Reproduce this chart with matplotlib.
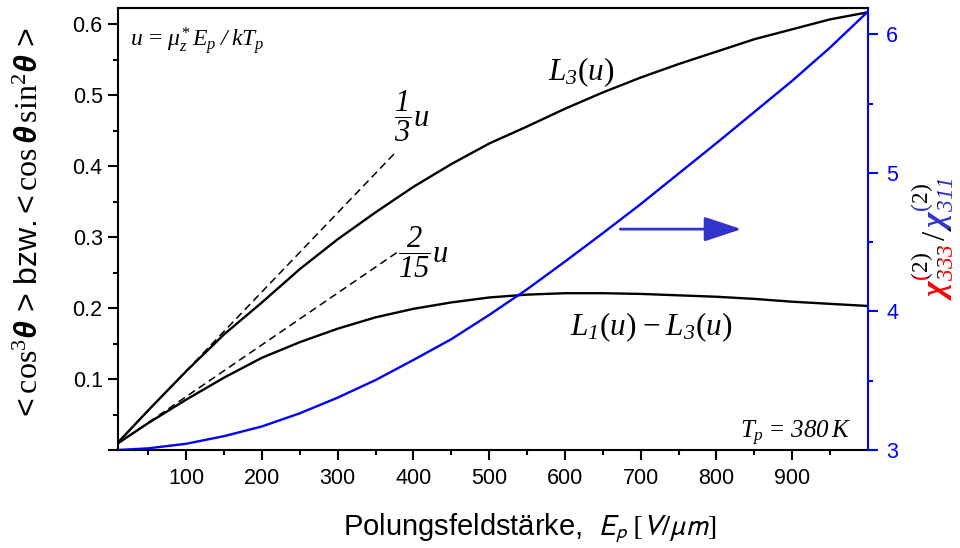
import numpy as np
import matplotlib
matplotlib.use("Agg")
import matplotlib.pyplot as plt
from matplotlib.ticker import FixedLocator, FixedFormatter
from matplotlib.transforms import Bbox, IdentityTransform

# ---------------- data ----------------
E_field = [10, 50, 100, 150, 200, 250, 300, 350, 400, 450, 500,
           550, 600, 650, 700, 750, 800, 850, 900, 950, 1000]
L3_vals = [0.0105, 0.056, 0.111, 0.163, 0.208, 0.255, 0.297, 0.335, 0.371, 0.403, 0.432,
           0.456, 0.481, 0.504, 0.525, 0.544, 0.5615, 0.579, 0.593, 0.607, 0.617]
L1mL3_vals = [0.0095, 0.038, 0.071, 0.102, 0.130, 0.152, 0.171, 0.187, 0.199, 0.208, 0.215,
              0.219, 0.221, 0.221, 0.220, 0.218, 0.216, 0.213, 0.209, 0.206, 0.203]
chi_ratio = [3.000, 3.012, 3.045, 3.100, 3.170, 3.265, 3.378, 3.505, 3.650, 3.800, 3.975,
             4.160, 4.360, 4.565, 4.775, 4.995, 5.215, 5.440, 5.665, 5.905, 6.165]
tan1_E = [10, 375]
tan1_v = [0.0112, 0.418]
tan2_E = [10, 379]
tan2_v = [0.0095, 0.279]

x_major = [100, 200, 300, 400, 500, 600, 700, 800, 900]
x_minor = [50, 150, 250, 350, 450, 550, 650, 750, 850, 950]
yl_major = [0.0, 0.1, 0.2, 0.3, 0.4, 0.5, 0.6]
yl_labels = ["", "0.1", "0.2", "0.3", "0.4", "0.5", "0.6"]
yl_minor = [0.05, 0.15, 0.25, 0.35, 0.45, 0.55]
yr_major = [3, 4, 5, 6]
yr_minor = [3.5, 4.5, 5.5]

plt.rcParams['font.family'] = ['Liberation Sans', 'DejaVu Sans']
plt.rcParams['mathtext.fontset'] = 'custom'
plt.rcParams['mathtext.rm'] = 'Liberation Serif:italic'
plt.rcParams['mathtext.it'] = 'Liberation Serif:italic'
plt.rcParams['mathtext.tt'] = 'Liberation Serif'
plt.rcParams['mathtext.bf'] = 'Liberation Sans:bold:italic'
plt.rcParams['mathtext.sf'] = 'Liberation Sans'
plt.rcParams['mathtext.cal'] = 'Liberation Serif:bold:italic'

BLUE = '#0000ff'
ABLUE = '#3333cc'

fig = plt.figure(figsize=(9.6, 5.48), dpi=100)
ax = fig.add_axes([118/960, 98/548, 750/960, 442/548])
ax2 = ax.twinx()

ax.plot(E_field, L3_vals, color='black', lw=1.7, zorder=3)
ax.plot(E_field, L1mL3_vals, color='black', lw=1.7, zorder=3)
ax.plot(tan1_E, tan1_v, color='black', lw=1.1, dashes=(5, 3), zorder=3)
ax.plot(tan2_E, tan2_v, color='black', lw=1.1, dashes=(5, 3), zorder=3)
ax2.plot(E_field, chi_ratio, color=BLUE, lw=1.7, zorder=3)

ax.set_xlim(10, 1000)
ax.set_ylim(0, 0.623)
ax2.set_ylim(3, 6.19)

ax.xaxis.set_major_locator(FixedLocator(x_major))
ax.xaxis.set_minor_locator(FixedLocator(x_minor))
ax.yaxis.set_major_locator(FixedLocator(yl_major))
ax.yaxis.set_major_formatter(FixedFormatter(yl_labels))
ax.yaxis.set_minor_locator(FixedLocator(yl_minor))
ax2.yaxis.set_major_locator(FixedLocator(yr_major))
ax2.yaxis.set_minor_locator(FixedLocator(yr_minor))

for a in (ax, ax2):
    for s in a.spines.values():
        s.set_linewidth(1.5)
ax.spines['right'].set_visible(False)
ax2.spines['left'].set_visible(False)
ax2.spines['bottom'].set_visible(False)
ax2.spines['right'].set_color(BLUE)

ax.tick_params(axis='both', which='major', direction='out', length=7, width=1.5,
               labelsize=15.5, pad=4)
ax.tick_params(axis='both', which='minor', direction='out', length=3.5, width=1.5)
ax.tick_params(axis='x', which='major', pad=6)
ax2.tick_params(axis='y', which='major', direction='out', length=7, width=1.5,
                labelsize=15.5, colors=BLUE, pad=6)
ax2.tick_params(axis='y', which='minor', direction='out', length=3.5, width=1.5, colors=BLUE)

# annotations
ax.text(26, 0.577, r'$u\,\mathtt{=}\,\mu_z^{*}\,E_p\;/\;kT_p$', fontsize=17, ha='left', va='center')
ax.text(622, 0.532, r'$L_{3}\mathtt{(}u\mathtt{)}$', fontsize=22.5, ha='center', va='center')
ax.text(714, 0.1735, r'$L_{1}\mathtt{(}u\mathtt{)}-L_{3}\mathtt{(}u\mathtt{)}$', fontsize=22.5,
        ha='center', va='center')
ax.text(978, 0.024, r'$T_p\,\mathtt{=}\,380\,K$', fontsize=18, ha='right', va='center')
ax.text(374, 0.470, r'$\dfrac{1}{3}u$', fontsize=22, ha='left', va='center')
ax.text(380, 0.279, r'$\dfrac{2}{15}u$', fontsize=22, ha='left', va='center')

ax2.annotate('', xy=(833, 4.594), xytext=(673, 4.594),
             arrowprops=dict(arrowstyle='-|>,head_length=1.15,head_width=0.38',
                             color=ABLUE, lw=2, mutation_scale=20, shrinkA=0, shrinkB=0))

# axis labels
fig.text(530, 20, r'Polungsfeldstärke,  $E_p\;[V/\mu m]$', fontsize=21,
         ha='center', va='center', transform=IdentityTransform(), math_fontfamily='stixsans')
fig.text(30, 324,
         r'$\mathsf{<}\mathtt{cos}^{\mathtt{3}}\mathbf{\theta}\,\mathsf{>\,bzw.\!<}'
         r'\mathtt{cos}\,\mathbf{\theta}\,\mathtt{sin}^{\mathtt{2}}\mathbf{\theta}\,\mathsf{>}$',
         fontsize=23, rotation=90, ha='center', va='center', transform=IdentityTransform())

# right label: multi-coloured via clipping
renderer = fig.canvas.get_renderer()
fs = 24
def tw(s):
    t = fig.text(0, 0, s, fontsize=fs, transform=IdentityTransform())
    w = t.get_window_extent(renderer).width
    t.remove()
    return w
CHI = r'\mathcal{\chi}'
p_chi = r'$' + CHI + r'$'
p1 = r'$' + CHI + r'^{\mathtt{(2)}}_{333}$'
p2 = r'$' + CHI + r'^{\mathtt{(2)}}_{333}\,\mathtt{/}\,$'
full = r'$' + CHI + r'^{\mathtt{(2)}}_{333}\,\mathtt{/}\,' + CHI + r'^{\mathtt{(2)}}_{311}$'
w_chi = tw(p_chi)
w1 = tw(p1)
w2 = tw(p2)
wall = tw(full)
x0, y0 = 946, 248
xs = x0 - 0.22 * fs * 100 / 72
regions = [
    ((-200, 200), (-5, w_chi), 'red'),
    ((xs - x0, 200), (w_chi, w1), 'red'),
    ((-200, xs - x0), (w_chi, w1), 'black'),
    ((-200, 200), (w1, w2), 'black'),
    ((-200, 200), (w2, w2 + w_chi), ABLUE),
    ((xs - x0, 200), (w2 + w_chi, wall + 10), ABLUE),
    ((-200, xs - x0), (w2 + w_chi, wall + 10), 'black'),
]
for (xa, xb), (ya, yb), col in regions:
    t = fig.text(x0, y0, full, fontsize=fs, rotation=90, rotation_mode='anchor',
                 ha='left', va='baseline', color=col, transform=IdentityTransform())
    t.set_clip_box(Bbox([[x0 + xa, y0 + ya], [x0 + xb, y0 + yb]]))
    t.set_clip_on(True)

fig.savefig('out.png', dpi=100)
